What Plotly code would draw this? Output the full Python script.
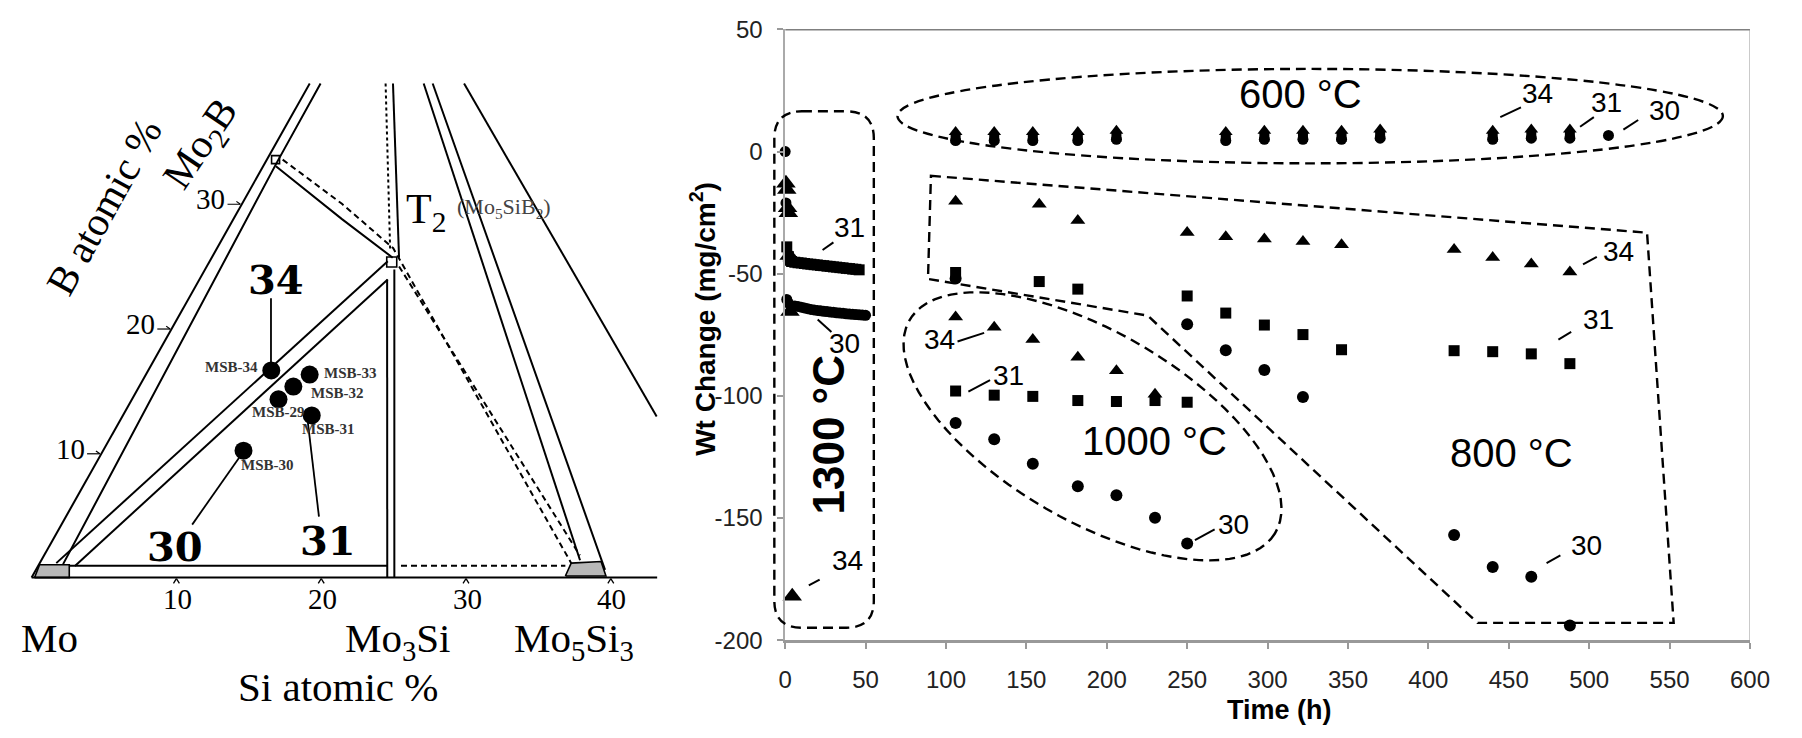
import numpy as np
import plotly.graph_objects as go

W, H = 1802, 738

# ======================= LEFT PANEL DATA (Si at.%, B at.%) =======================
si_tick_vals = [10, 20, 30, 40]
b_tick_vals = [10, 20, 30]

alloys = ["MSB-34", "MSB-33", "MSB-32", "MSB-29", "MSB-31", "MSB-30"]
alloy_si = [8.50, 11.31, 10.65, 10.12, 13.04, 9.70]
alloy_b = [16.60, 16.27, 15.31, 14.29, 13.00, 10.17]

# phase-boundary polylines as (Si, B) pairs
edge_outer = [(0, 0), (0, 39.6)]
edge_inner = [(1.65, 1.08), (0.8, 33.3), (0.75, 39.6)]
mo_t2_upper = [(1.14, 1.16), (12.3, 25.35)]
mo_t2_lower = [(2.54, 0.93), (13.0, 23.9)]
mo3si_left = [(12.96, 23.9), (24.56, 0)]
mo3si_right = [(13.07, 24.7), (25.05, 0)]
base_lower = [(0, 0), (43.2, 0)]
base_upper = [(2.12, 0.95), (24.1, 0.95)]
base_upper_dash = [(25.05, 0.95), (36.4, 0.95)]
mo2b_t2 = [(0.88, 32.97), (7.5, 28.73), (12.5, 25.64)]
mo2b_t2_dash = [(1.09, 33.5), (6.9, 29.96), (12.17, 26.4), (36.7, 1.16)]
t2_mo5si3_dash = [(13.28, 24.94), (37.0, 1.78)]
t1_left = [(7.87, 39.6), (37.2, 1.39)]
t1_right = [(8.49, 39.6), (39.3, 0.62)]
far_right = [(10.66, 39.6), (36.9, 12.92)]
t2_top_dot = [(5.24, 39.6), (12.03, 26.25)]
t2_top = [(5.75, 39.6), (12.94, 25.64)]
moss_region = [(0.2, 0), (2.6, 0), (2.1, 1.03), (0.05, 1.03)]
mo5si3_region = [(36.8, 0.13), (39.6, 0.13), (38.7, 1.29), (36.7, 1.16)]
t2_point = (12.6, 25.3)
mo2b_point = (0.6, 33.5)

# ======================= RIGHT PANEL DATA (Time h, Wt change mg/cm2) =======================
time_ticks = list(range(0, 601, 50))
wt_ticks = list(range(-200, 51, 50))
wt_tick_text = [str(v) for v in wt_ticks]

# 1300 C
t1300_34 = [0.5, 1.0, 1.5, 2.0, 2.5, 3.0, 4.4]
w1300_34 = [-13, -15.5, -23, -25, -42.5, -65.5, -182]
t1300_31 = [1, 2, 3, 4, 6, 8, 10, 12, 14, 16, 18, 20, 22, 24, 26, 28, 30, 32, 34, 36, 38, 40, 42, 44, 46]
w1300_31 = [-39, -43, -44.5, -45, -45.3, -45.5, -45.6, -45.8, -46, -46.1, -46.3, -46.4, -46.6, -46.7,
            -46.9, -47, -47.2, -47.3, -47.5, -47.6, -47.8, -47.9, -48.1, -48.2, -48.4]
t1300_30 = [0, 0.5, 1, 2, 4, 6, 8, 10, 12, 14, 16, 18, 20, 22, 24, 26, 28, 30, 32, 34, 36, 38, 40, 42,
            44, 46, 48, 50]
w1300_30 = [0, -21, -60.5, -62, -63.8, -63.2, -63.4, -63.7, -64, -64.3, -64.6, -64.8, -65, -65.2,
            -65.4, -65.5, -65.7, -65.8, -66, -66.1, -66.2, -66.4, -66.5, -66.6, -66.7, -66.8, -66.9, -67]

# 1000 C
t1000_34 = [106, 130, 154, 182, 206, 230]
w1000_34 = [-67.7, -71.9, -76.9, -84.2, -89.7, -99.3]
t1000_31 = [106, 130, 154, 182, 206, 230, 250]
w1000_31 = [-98.0, -99.7, -100.2, -101.9, -102.3, -101.9, -102.6]
t1000_30 = [106, 130, 154, 182, 206, 230, 250]
w1000_30 = [-111.1, -117.7, -127.8, -137.0, -140.7, -149.9, -160.4]

# 800 C
t800_34 = [106, 158, 182, 250, 274, 298, 322, 346, 416, 440, 464, 488]
w800_34 = [-20.3, -21.6, -28.2, -33.1, -34.9, -35.8, -36.8, -38.1, -40.1, -43.4, -46.0, -49.3]
t800_31 = [106, 158, 182, 250, 274, 298, 322, 346, 416, 440, 464, 488]
w800_31 = [-49.5, -53.2, -56.3, -59.1, -66.1, -71.0, -74.9, -81.1, -81.5, -81.9, -82.8, -86.8]
t800_30 = [106, 250, 274, 298, 322, 416, 440, 464, 488]
w800_30 = [-52.0, -70.7, -81.3, -89.4, -100.5, -156.9, -170.0, -174.0, -194.0]

# 600 C
t600_34 = [106, 130, 154, 182, 206, 274, 298, 322, 346, 370, 440, 464, 488]
w600_34 = [8.0, 8.0, 8.0, 8.0, 8.5, 8.0, 8.5, 8.5, 8.5, 9.0, 8.5, 9.0, 9.0]
t600_31 = [106, 130, 154, 182, 206, 274, 298, 322, 346, 370, 440, 464, 488]
w600_31 = [5.5, 5.5, 5.5, 5.5, 6.0, 5.5, 6.0, 6.0, 6.0, 6.5, 6.0, 6.5, 6.5]
t600_30 = [106, 130, 154, 182, 206, 274, 298, 322, 346, 370, 440, 464, 488, 512]
w600_30 = [4.5, 4.5, 4.5, 4.5, 5.0, 4.5, 5.0, 5.0, 5.0, 5.5, 5.0, 5.5, 5.5, 6.6]

# ======================= GEOMETRY =======================
SERIF = "Liberation Serif, Times New Roman, serif"
SANS = "Liberation Sans, Arial, sans-serif"
BOLDSERIF = "DejaVu Serif, serif"

# left panel: px x = 25 + K*X ; px y = 585 - K*Y  (X = Si + 0.485 B, Y = 0.881 B)
K = 14.7
LX0, LY0 = 25.0, 585.0
LEFT_W = 680


def proj(si, b):
    return si + 0.485 * b, 0.881 * b


def lx(px):
    return (px - LX0) / K


def ly(py):
    return (LY0 - py) / K


# right panel plot area in px
PX_L, PX_R, PY_T, PY_B = 790.0, 1769.5, 16.0, 650.0


def px2paper(px, py):
    return px / W, 1 - py / H


fig = go.Figure()


def add_poly(pts, dash="solid", width=2.0, fill=None, fillcolor=None):
    xs, ys = zip(*[proj(s, b) for s, b in pts])
    xs, ys = list(xs), list(ys)
    if fill:
        xs.append(xs[0]); ys.append(ys[0])
    fig.add_trace(go.Scatter(
        x=xs, y=ys, mode="lines", xaxis="x", yaxis="y", showlegend=False, hoverinfo="skip",
        line=dict(color="black", width=width, dash=dash),
        fill="toself" if fill else None, fillcolor=fillcolor))


add_poly(moss_region, fill=True, fillcolor="#b8b8b8", width=1.6)
add_poly(mo5si3_region, fill=True, fillcolor="#b8b8b8", width=1.6)
for pl in [edge_outer, edge_inner, mo_t2_upper, mo_t2_lower, mo3si_left, mo3si_right, base_lower,
           base_upper, mo2b_t2, t1_left, t1_right, far_right, t2_top]:
    add_poly(pl)
for pl in [base_upper_dash, mo2b_t2_dash, t2_mo5si3_dash]:
    add_poly(pl, dash="6px,4px")
add_poly(t2_top_dot, dash="3px,3px")

for (s, b), sz in [(t2_point, 10), (mo2b_point, 8)]:
    X, Y = proj(s, b)
    fig.add_trace(go.Scatter(x=[X], y=[Y], mode="markers", xaxis="x", yaxis="y", showlegend=False,
                             hoverinfo="skip",
                             marker=dict(symbol="square-open", size=sz, color="black", line=dict(width=1.6))))

ax_, ay_ = zip(*[proj(s, b) for s, b in zip(alloy_si, alloy_b)])
fig.add_trace(go.Scatter(x=list(ax_), y=list(ay_), mode="markers", xaxis="x", yaxis="y", showlegend=False,
                         hoverinfo="skip", marker=dict(symbol="circle", size=18, color="black")))

annotations = []
shapes = []


def l_text(px, py, text, size, angle=0, family=SERIF, color="black", xanchor="center", bold=False):
    annotations.append(dict(x=lx(px), y=ly(py), xref="x", yref="y", text=("<b>%s</b>" % text) if bold else text,
                            showarrow=False, textangle=angle, xanchor=xanchor, yanchor="middle",
                            font=dict(family=family, size=size, color=color)))


def l_line(x0, y0, x1, y1, width=1.8):
    shapes.append(dict(type="line", xref="x", yref="y", x0=lx(x0), y0=ly(y0), x1=lx(x1), y1=ly(y1),
                       line=dict(color="black", width=width)))


for v in si_tick_vals:
    X, Y = proj(v, 0)
    px = LX0 + K * X
    l_text(px + 1, 607, str(v), 29)
    l_line(px - 3, 591, px, 586, 1.3)
    l_line(px, 586, px + 3, 591, 1.3)

for v in b_tick_vals:
    X, Y = proj(0, v)
    px, py = LX0 + K * X, LY0 - K * Y
    l_text(px - 32, py - 4, str(v), 29)
    l_line(px - 15, py + 1, px - 2, py + 1, 1.2)
    l_line(px - 6, py - 2, px - 2, py + 1, 1.2)

l_text(43, 648, "Mo", 41)
l_text(397, 651, "Mo<sub>3</sub>Si", 41)
l_text(576, 651, "Mo<sub>5</sub>Si<sub>3</sub>", 41)
l_text(336, 699, "Si atomic %", 41)
l_text(98, 200, "B atomic %", 41, angle=-61)
l_text(198, 136, "Mo<sub>2</sub>B", 41, angle=-56)
l_text(425, 205, "T<sub>2</sub>", 42)
l_text(505, 201, "(Mo<sub>5</sub>SiB<sub>2</sub>)", 22, color="#444")

alloy_lab_pos = {"MSB-34": (257, 366, "right"), "MSB-33": (320, 373, "left"), "MSB-32": (307, 393, "left"),
                 "MSB-29": (247, 413, "left"), "MSB-31": (297, 431, "left"), "MSB-30": (236, 468, "left")}
for n in alloys:
    px, py, anc = alloy_lab_pos[n]
    l_text(px, py, n, 15, xanchor=anc, bold=True, color="#333")

l_text(273, 276, "34", 40, family=BOLDSERIF, bold=True)
l_text(171, 553, "30", 40, family=BOLDSERIF, bold=True)
l_text(326, 547, "31", 40, family=BOLDSERIF, bold=True)
l_line(268, 295, 268, 362)
l_line(188, 530, 236, 460)
l_line(316.7, 521.7, 305, 420)


def add_series(t, w, symbol, size):
    fig.add_trace(go.Scatter(x=t, y=w, mode="markers", xaxis="x2", yaxis="y2", showlegend=False,
                             cliponaxis=False, hoverinfo="skip",
                             marker=dict(symbol=symbol, size=size, color="black")))


add_series(t1300_30, w1300_30, "circle", 11)
add_series(t1300_31, w1300_31, "square", 11)
add_series(t1300_34, w1300_34, "triangle-up", 17)
add_series(t1000_30, w1000_30, "circle", 12)
add_series(t1000_31, w1000_31, "square", 11)
add_series(t1000_34, w1000_34, "triangle-up", 13)
add_series(t800_30, w800_30, "circle", 12)
add_series(t800_31, w800_31, "square", 11)
add_series(t800_34, w800_34, "triangle-up", 13)
add_series(t600_30, w600_30, "circle", 11)
add_series(t600_31, w600_31, "square", 10)
add_series(t600_34, w600_34, "triangle-up", 12)


def P(px, py):
    a, b = px2paper(px, py)
    return "%.5f,%.5f" % (a, b)


DASH = dict(color="black", width=2.4, dash="10px,6px")

l_, r_, t_, b_, rad = 779, 880, 101, 637, 28
path = ("M %s L %s Q %s %s L %s Q %s %s L %s Q %s %s L %s Q %s %s Z" % (
    P(l_ + rad, t_), P(r_ - rad, t_), P(r_, t_), P(r_, t_ + rad), P(r_, b_ - rad), P(r_, b_), P(r_ - rad, b_),
    P(l_ + rad, b_), P(l_, b_), P(l_, b_ - rad), P(l_, t_ + rad), P(l_, t_), P(l_ + rad, t_)))
shapes.append(dict(type="path", xref="paper", yref="paper", path=path, line=DASH))

x0p, y0p = px2paper(904, 155)
x1p, y1p = px2paper(1742, 57)
shapes.append(dict(type="circle", xref="paper", yref="paper", x0=x0p, y0=y0p, x1=x1p, y1=y1p, line=DASH))

cx, cy, ea, eb, th = 1102, 428, 216, 97.5, np.radians(31)
phi = np.linspace(0, 2 * np.pi, 90)
ex = cx + ea * np.cos(phi) * np.cos(th) - eb * np.sin(phi) * np.sin(th)
ey = cy + ea * np.cos(phi) * np.sin(th) + eb * np.sin(phi) * np.cos(th)
path = "M " + " L ".join(P(a, b) for a, b in zip(ex, ey)) + " Z"
shapes.append(dict(type="path", xref="paper", yref="paper", path=path, line=DASH))

poly800 = [(938, 168), (1665, 227), (1692, 632), (1493, 632), (1158, 313), (935, 275)]
path = "M " + " L ".join(P(a, b) for a, b in poly800) + " Z"
shapes.append(dict(type="path", xref="paper", yref="paper", path=path, line=DASH))

leaders = [(828, 245, 839, 237), (823, 317, 837, 330), (814, 593, 825, 587),
           (965, 340, 992, 331), (976, 392, 998, 380), (1206, 546, 1226, 535),
           (1516, 107, 1537, 97), (1597, 117, 1611, 107), (1641, 120, 1656, 110),
           (1600, 260, 1614, 252), (1575, 338, 1588, 330), (1563, 570, 1577, 562)]
for a, b, c, d in leaders:
    x0, y0 = px2paper(a, b)
    x1, y1 = px2paper(c, d)
    shapes.append(dict(type="line", xref="paper", yref="paper", x0=x0, y0=y0, x1=x1, y1=y1,
                       line=dict(color="black", width=2)))

shapes.append(dict(type="line", xref="x2", yref="y2", x0=0, x1=600, y0=50, y1=50,
                   line=dict(color="black", width=1.6)))
shapes.append(dict(type="line", xref="x2", yref="y2", x0=600, x1=600, y0=-200, y1=50,
                   line=dict(color="#999", width=1)))


def r_text(px, py, text, size, angle=0, bold=False):
    a, b = px2paper(px, py)
    annotations.append(dict(x=a, y=b, xref="paper", yref="paper", text=("<b>%s</b>" % text) if bold else text,
                            showarrow=False, textangle=angle, xanchor="center", yanchor="middle",
                            font=dict(family=SANS, size=size, color="black")))


r_text(1313, 83, "600 °C", 40)
r_text(1165, 443, "1000 °C", 40)
r_text(1527, 456, "800 °C", 40)
r_text(834, 437, "1300 °C", 44, angle=-90, bold=True)
for px, py, s in [(855, 222, "31"), (850, 342, "30"), (853, 567, "34"),
                  (947, 338, "34"), (1017, 375, "31"), (1245, 530, "30"),
                  (1554, 82, "34"), (1624, 92, "31"), (1683, 100, "30"),
                  (1636, 247, "34"), (1616, 317, "31"), (1604, 552, "30")]:
    r_text(px, py, s, 28)

r_text(707, 316, "Wt Change (mg/cm<sup>2</sup>)", 28, angle=-90, bold=True)
r_text(1292, 722, "Time (h)", 27, bold=True)

fig.update_layout(
    width=W, height=H, margin=dict(l=0, r=0, t=0, b=0),
    paper_bgcolor="white", plot_bgcolor="white",
    xaxis=dict(domain=[0, LEFT_W / W], range=[lx(0), lx(LEFT_W)], visible=False, fixedrange=True),
    yaxis=dict(domain=[0, 1], range=[ly(H), ly(0)], visible=False, fixedrange=True),
    xaxis2=dict(domain=[PX_L / W, PX_R / W], range=[0, 600], anchor="y2", tickvals=time_ticks,
                showgrid=False, zeroline=False, showline=True, linecolor="#999", linewidth=3,
                ticks="outside", ticklen=6, tickcolor="#999", tickwidth=1.5, ticklabelstandoff=10,
                tickfont=dict(family=SANS, size=24, color="#222"), fixedrange=True),
    yaxis2=dict(domain=[1 - PY_B / H, 1 - PY_T / H], range=[-200, 50], anchor="x2", tickvals=wt_ticks,
                ticktext=wt_tick_text,
                showgrid=False, zeroline=False, showline=True, linecolor="#aaa", linewidth=1.5,
                ticks="outside", ticklen=6, tickcolor="#999", tickwidth=1.5, ticklabelstandoff=10,
                tickfont=dict(family=SANS, size=24, color="#222"), fixedrange=True),
    shapes=shapes, annotations=annotations,
)

fig.write_html("out.html", config={"displayModeBar": False},
               post_script="document.body.style.margin='0';document.body.style.overflow='hidden';")
